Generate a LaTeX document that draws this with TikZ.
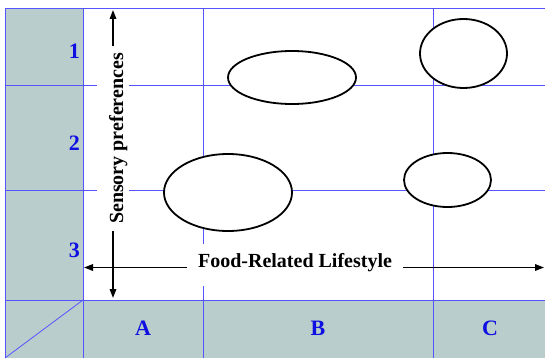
\documentclass[tikz,border=0pt]{standalone}
\usepackage{fontspec}
\setmainfont{Liberation Serif}
\usepackage{xcolor}
\usepackage{tikz}
\usetikzlibrary{arrows.meta,shapes.geometric}
\definecolor{cgrey}{RGB}{185,205,205}
\definecolor{cline}{RGB}{85,85,255}
\definecolor{clabel}{RGB}{15,15,225}

\begin{document}
\begin{tikzpicture}[x=1pt,y=-1pt,font=\bfseries\fontsize{20}{24}\selectfont,
  grid/.style={cline,line width=0.8pt},
  lbl/.style={text=clabel,inner sep=0pt,font=\bfseries\fontsize{22}{26}\selectfont},
  seg/.style={draw,ellipse,fill=white,line width=1.8pt,inner sep=0pt},
  arr/.style={line width=1.6pt,-{Triangle[length=9pt,width=6.5pt]}}]
  \useasboundingbox (0,0) rectangle (545,358);
  % shaded row and column
  \fill[cgrey] (5,8) rectangle (83,358);
  \fill[cgrey] (5,300) rectangle (545,358);
  % grid
  \foreach \yy in {8,85,190,300} \draw[grid] (5,\yy) -- (545,\yy);
  \foreach \xx in {5,83,203,433} \draw[grid] (\xx,8) -- (\xx,358);
  \draw[grid] (83,300) -- (5,358);
  % row and column labels
  \node[lbl,anchor=east] (r1) at (80,51) {1};
  \node[lbl,anchor=east] (r2) at (80,143) {2};
  \node[lbl,anchor=east] (r3) at (80,250) {3};
  \node[lbl] (ca) at (143,328) {A};
  \node[lbl] (cb) at (318,328) {B};
  \node[lbl] (cc) at (490,328) {C};
  % segments
  \node[seg,minimum width=128,minimum height=53] (s1) at (292,77.5) {};
  \node[seg,minimum width=87,minimum height=69] (s2) at (463.5,53.5) {};
  \node[seg,minimum width=128,minimum height=77] (s3) at (228,192.5) {};
  \node[seg,minimum width=87,minimum height=54] (s4) at (447.5,180) {};
  % axes
  \coordinate (up) at (113,10);
  \coordinate (dn) at (113,298);
  \coordinate (lft) at (84,267.5);
  \coordinate (rgt) at (544,267.5);
  \node[fill=white,rotate=90,inner ysep=0pt,inner xsep=7pt,text height=26pt,text depth=6pt]
    (sp) at (113,138.5) {Sensory preferences};
  \node[fill=white,anchor=base,inner ysep=0pt,inner xsep=11pt,text height=24pt,text depth=18pt]
    (fl) at (295,267.5) {Food-Related Lifestyle};
  \draw[arr] (sp.east) -- (up);
  \draw[arr] (sp.west) -- (dn);
  \draw[arr] (fl.base west) -- (lft);
  \draw[arr] (fl.base east) -- (rgt);
\end{tikzpicture}
\end{document}
